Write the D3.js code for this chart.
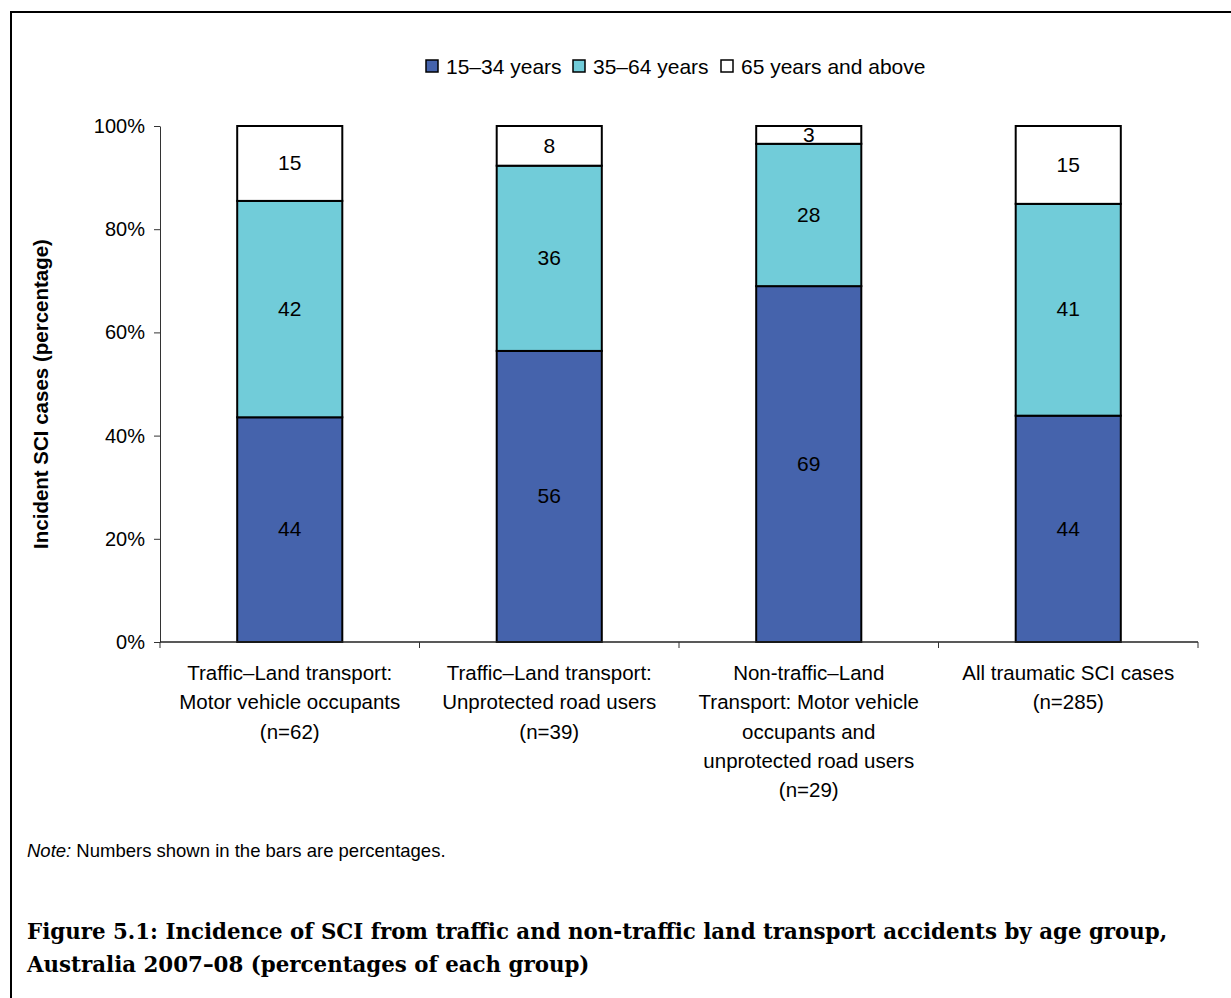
<!DOCTYPE html>
<html>
<head>
<meta charset="utf-8">
<script src="https://cdn.jsdelivr.net/npm/d3@7"></script>
<style>
  html, body { margin: 0; padding: 0; background: #fff; }
  svg { display: block; }
  text { font-family: "Liberation Sans", Arial, sans-serif; fill: #000; }
</style>
</head>
<body>
<svg id="chart" width="1231" height="998"></svg>
<script>
// Age groups (stack order, bottom to top) and their fills
const ageGroups = ["15–34 years", "35–64 years", "65 years and above"];
const ageColors = ["#4563AC", "#71CCD9", "#FFFFFF"];

// Accident categories, each label split into display lines
const categories = ["mvo", "unprot", "nontraffic", "all"];
const categoryLines = [
  ["Traffic–Land transport:", "Motor vehicle occupants", "(n=62)"],
  ["Traffic–Land transport:", "Unprotected road users", "(n=39)"],
  ["Non-traffic–Land", "Transport: Motor vehicle", "occupants and", "unprotected road users", "(n=29)"],
  ["All traumatic SCI cases", "(n=285)"]
];

// Incident case counts per age group for each category
const cases15to34 = [27, 22, 20, 125];
const cases35to64 = [26, 14, 8, 117];
const cases65plus = [9, 3, 1, 43];

const yTicks = [0, 0.2, 0.4, 0.6, 0.8, 1.0];

const svg = d3.select("#chart");

// Outer frame
svg.append("rect")
  .attr("x", 11).attr("y", 12)
  .attr("width", 1260).attr("height", 1020)
  .attr("fill", "none").attr("stroke", "#000").attr("stroke-width", 2);

const plot = { left: 160, right: 1198, top: 126, bottom: 642 };

const x = d3.scaleBand()
  .domain(categories)
  .range([plot.left, plot.right])
  .paddingInner(0.595)
  .paddingOuter(0.2975);

const y = d3.scaleLinear().domain([0, 1]).range([plot.bottom, plot.top]);

// Shares of each category's cases
const rows = categories.map((c, i) => {
  const total = cases15to34[i] + cases35to64[i] + cases65plus[i];
  return {
    category: c,
    [ageGroups[0]]: cases15to34[i] / total,
    [ageGroups[1]]: cases35to64[i] / total,
    [ageGroups[2]]: cases65plus[i] / total
  };
});

const stacked = d3.stack().keys(ageGroups)(rows);

// Bars
const layers = svg.append("g").selectAll("g")
  .data(stacked).join("g")
  .attr("fill", (d, i) => ageColors[i]);

layers.selectAll("rect")
  .data(d => d)
  .join("rect")
  .attr("x", d => x(d.data.category))
  .attr("y", d => y(d[1]))
  .attr("width", x.bandwidth())
  .attr("height", d => y(d[0]) - y(d[1]))
  .attr("stroke", "#000")
  .attr("stroke-width", 2);

// Value labels inside the segments
const pct = d3.format(".0f");
layers.selectAll("text")
  .data(d => d)
  .join("text")
  .attr("x", d => x(d.data.category) + x.bandwidth() / 2)
  .attr("y", d => (y(d[0]) + y(d[1])) / 2)
  .attr("dy", "0.32em")
  .attr("text-anchor", "middle")
  .attr("font-size", 21)
  .attr("fill", "#000")
  .text(d => pct((d[1] - d[0]) * 100));

// Y axis
const yAxis = svg.append("g")
  .attr("transform", `translate(${plot.left},0)`)
  .call(d3.axisLeft(y).tickValues(yTicks).tickFormat(d3.format(".0%")).tickSize(6).tickPadding(9).tickSizeOuter(0));
yAxis.selectAll("text")
  .attr("font-size", 20)
  .attr("fill", "#000")
  .style("font-family", "Liberation Sans, Arial, sans-serif");
yAxis.selectAll("path, line").attr("stroke", "#333");

// X axis line with ticks on category boundaries
const xAxis = svg.append("g")
  .attr("transform", `translate(0,${plot.bottom})`);
xAxis.append("line")
  .attr("x1", plot.left).attr("x2", plot.right)
  .attr("stroke", "#222").attr("stroke-width", 1.5);
const step = x.step();
xAxis.selectAll("line.tick")
  .data(d3.range(categories.length + 1))
  .join("line")
  .attr("class", "tick")
  .attr("x1", i => plot.left + i * step).attr("x2", i => plot.left + i * step)
  .attr("y1", 0).attr("y2", 6)
  .attr("stroke", "#333");

// Category labels
categories.forEach((c, i) => {
  const t = svg.append("text")
    .attr("text-anchor", "middle")
    .attr("font-size", 20.5)
    .attr("y", plot.bottom + 38);
  categoryLines[i].forEach((line, j) => {
    t.append("tspan")
      .attr("x", x(c) + x.bandwidth() / 2)
      .attr("dy", j === 0 ? 0 : 29.3)
      .text(line);
  });
});

// Y axis title
svg.append("text")
  .attr("transform", "translate(48,394) rotate(-90)")
  .attr("text-anchor", "middle")
  .attr("font-size", 20.5)
  .attr("font-weight", "bold")
  .text("Incident SCI cases (percentage)");

// Legend
const legendX = [426, 573, 721];
const legend = svg.append("g").selectAll("g")
  .data(ageGroups).join("g")
  .attr("transform", (d, i) => `translate(${legendX[i]},60)`);
legend.append("rect")
  .attr("width", 12).attr("height", 12)
  .attr("fill", (d, i) => ageColors[i])
  .attr("stroke", "#000").attr("stroke-width", 1.5);
legend.append("text")
  .attr("x", 20).attr("y", 6).attr("dy", "0.36em")
  .attr("font-size", 21)
  .text(d => d);

// Note
const note = svg.append("text").attr("x", 27).attr("y", 857).attr("font-size", 18.5);
note.append("tspan").attr("font-style", "italic").text("Note:");
note.append("tspan").text(" Numbers shown in the bars are percentages.");

// Figure caption, sized so the first line spans the text block
const caption = svg.append("text")
  .style("font-family", "'DejaVu Serif', 'Liberation Serif', serif")
  .attr("font-weight", "bold")
  .attr("font-size", 23);
const capLine1 = caption.append("tspan").attr("x", 27).attr("y", 939)
  .text("Figure 5.1: Incidence of SCI from traffic and non-traffic land transport accidents by age group,");
caption.append("tspan").attr("x", 27).attr("y", 972)
  .text("Australia 2007–08 (percentages of each group)");
const capWidth = capLine1.node().getComputedTextLength();
caption.attr("font-size", 23 * 1141 / capWidth);
</script>
</body>
</html>
